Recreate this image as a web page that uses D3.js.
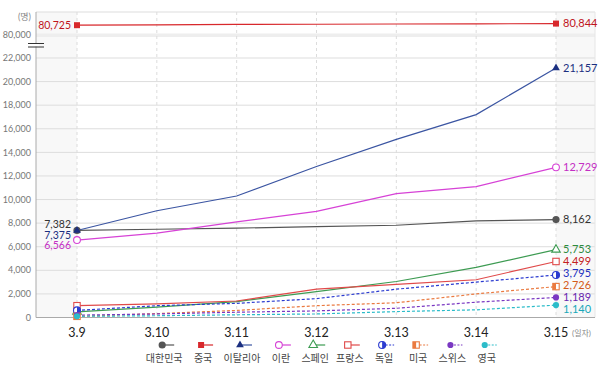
<!DOCTYPE html>
<html>
<head>
<meta charset="utf-8">
<script src="https://cdn.jsdelivr.net/npm/d3@7"></script>
<style>
body { margin: 0; background: #fff; }
svg { font-family: Lato, "Noto Sans CJK KR", sans-serif; }
</style>
</head>
<body>
<script>
// x categories (dates)
var dates = ["3.9", "3.10", "3.11", "3.12", "3.13", "3.14", "3.15"];

// legend / series names
var countries = ["대한민국", "중국", "이탈리아", "이란", "스페인", "프랑스", "독일", "미국", "스위스", "영국"];

// series values
var korea       = [7382, 7480, 7580, 7700, 7820, 8200, 8300];
var china       = [80725, 80754, 80778, 80793, 80813, 80824, 80844];
var italy       = [7375, 9050, 10300, 12800, 15100, 17200, 21157];
var iran        = [6566, 7150, 8100, 9000, 10500, 11100, 12729];
var spain       = [480, 880, 1350, 2200, 3050, 4250, 5753];
var france      = [1000, 1150, 1400, 2400, 2800, 3200, 4750];
var germany     = [600, 1000, 1200, 1600, 2400, 3000, 3600];
var usa         = [100, 330, 600, 1000, 1250, 2000, 2620];
var switzerland = [200, 300, 450, 560, 780, 1300, 1700];
var uk          = [100, 150, 230, 300, 500, 650, 1050];

// printed value labels
var startLabels = ["7,382", "80,725", "7,375", "6,566", null, null, null, null, null, null];
var endLabels   = ["8,162", "80,844", "21,157", "12,729", "5,753", "4,499", "3,795", "2,726", "1,189", "1,140"];

// y ticks
var lowTicks  = [0, 2000, 4000, 6000, 8000, 10000, 12000, 14000, 16000, 18000, 20000, 22000];
var highTicks = [80000];

var seriesValues = [korea, china, italy, iran, spain, france, germany, usa, switzerland, uk];

// styles per series
var lineColors  = ["#555555", "#d8282c", "#3b55a2", "#d642d6", "#3d9b52", "#e04a4a", "#2b3bd0", "#ea7a40", "#7a38c2", "#2cbcc9"];
var labelColors = ["#333333", "#c0141c", "#1b2f80", "#c42fc4", "#2e8b3e", "#c42020", "#2230c0", "#d45a18", "#6a28b0", "#17a7b8"];
var markers     = ["dot", "square", "triangle", "circleOpen", "triangleOpen", "squareOpen", "circleHalf", "squareHalf", "dotSmall", "dotSmall"];
var dashed      = [false, false, false, false, false, false, true, true, true, true];

var width = 600, height = 368;
var plotLeft = 36, plotRight = 595, plotTop = 12, plotBottom = 317.5;

var svg = d3.select("body").append("svg")
    .attr("width", width)
    .attr("height", height);

var x = d3.scalePoint()
    .domain(dates)
    .range([77, 556]);

var yLow = d3.scaleLinear().domain([0, 22000]).range([plotBottom, 58]);
var yHigh = d3.scaleLinear().domain([80000, 81700]).range([35, plotTop]);

function y(v) {
    return v >= 50000 ? yHigh(v) : yLow(v);
}

var firstX = x(dates[0]), lastX = x(dates[dates.length - 1]);

//shaded padding on both sides
svg.append("rect").attr("x", plotLeft).attr("y", plotTop).attr("width", firstX - plotLeft).attr("height", plotBottom - plotTop).attr("fill", "#f8f8f8");
svg.append("rect").attr("x", lastX).attr("y", plotTop).attr("width", plotRight - lastX).attr("height", plotBottom - plotTop).attr("fill", "#f8f8f8");

//horizontal grid
svg.selectAll(".hgrid")
    .data(lowTicks.map(yLow).concat(highTicks.map(yHigh), [plotTop]))
    .enter()
    .append("line")
    .attr("x1", plotLeft).attr("x2", plotRight)
    .attr("y1", function(d){ return d; })
    .attr("y2", function(d){ return d; })
    .attr("stroke", "#dddddd")
    .attr("stroke-width", 1);

//band under the break line
svg.append("rect").attr("x", plotLeft).attr("y", yHigh(80000) - 1.5).attr("width", plotRight - plotLeft).attr("height", 3.5).attr("fill", "#eeeeee");

//vertical dashed grid
svg.selectAll(".vgrid")
    .data(dates)
    .enter()
    .append("line")
    .attr("x1", function(d){ return x(d); })
    .attr("x2", function(d){ return x(d); })
    .attr("y1", plotTop).attr("y2", plotBottom)
    .attr("stroke", "#dcdcdc")
    .attr("stroke-dasharray", "3,3");

svg.append("line").attr("x1", plotRight).attr("x2", plotRight).attr("y1", plotTop).attr("y2", plotBottom).attr("stroke", "#e6e6e6");

//axes lines
svg.append("line").attr("x1", plotLeft).attr("x2", plotLeft).attr("y1", plotTop).attr("y2", plotBottom).attr("stroke", "#aaaaaa");
svg.append("line").attr("x1", plotLeft).attr("x2", plotRight).attr("y1", plotBottom).attr("y2", plotBottom).attr("stroke", "#aaaaaa");

//axis break mark
svg.append("rect").attr("x", plotLeft - 3).attr("y", 43.5).attr("width", 6).attr("height", 3).attr("fill", "#fff");
svg.append("line").attr("x1", 28).attr("x2", 44).attr("y1", 43.5).attr("y2", 43.5).attr("stroke", "#333");
svg.append("line").attr("x1", 28).attr("x2", 44).attr("y1", 47).attr("y2", 47).attr("stroke", "#333");

//y tick labels
var fmt = d3.format(",");
svg.selectAll(".ytick")
    .data(lowTicks.map(function(d){ return [d, yLow(d)]; }).concat(highTicks.map(function(d){ return [d, yHigh(d)]; })))
    .enter()
    .append("text")
    .attr("x", 31)
    .attr("y", function(d){ return d[1]; })
    .attr("dy", "0.35em")
    .attr("text-anchor", "end")
    .attr("font-size", 9)
    .attr("fill", "#777")
    .text(function(d){ return fmt(d[0]); });

svg.append("text").attr("x", 31).attr("y", 17).attr("dy", "0.35em").attr("text-anchor", "end")
    .attr("font-size", 9).attr("fill", "#888").text("(명)");

//x labels
svg.selectAll(".xtick")
    .data(dates)
    .enter()
    .append("text")
    .attr("x", function(d){ return x(d); })
    .attr("y", 337)
    .attr("text-anchor", "middle")
    .attr("font-size", 12.5)
    .attr("fill", "#222")
    .text(function(d){ return d; });

svg.append("text").attr("x", 572).attr("y", 336).attr("text-anchor", "start")
    .attr("font-size", 8).attr("fill", "#888").text("(일자)");

//marker drawing
function drawMarker(g, type, color, cx, cy) {
    if (type == "dot") {
        g.append("circle").attr("cx", cx).attr("cy", cy).attr("r", 3.6).attr("fill", color);
    } else if (type == "dotSmall") {
        g.append("circle").attr("cx", cx).attr("cy", cy).attr("r", 3.1).attr("fill", color);
    } else if (type == "square") {
        g.append("rect").attr("x", cx - 3).attr("y", cy - 3).attr("width", 6).attr("height", 6).attr("fill", color);
    } else if (type == "triangle") {
        g.append("path").attr("d", d3.symbol(d3.symbolTriangle, 26)()).attr("transform", "translate(" + cx + "," + cy + ")").attr("fill", color);
    } else if (type == "circleOpen") {
        g.append("circle").attr("cx", cx).attr("cy", cy).attr("r", 3.4).attr("fill", "#fff").attr("stroke", color).attr("stroke-width", 1.1);
    } else if (type == "triangleOpen") {
        g.append("path").attr("d", d3.symbol(d3.symbolTriangle, 32)()).attr("transform", "translate(" + cx + "," + cy + ")").attr("fill", "#fff").attr("stroke", color).attr("stroke-width", 1.1);
    } else if (type == "squareOpen") {
        g.append("rect").attr("x", cx - 3.2).attr("y", cy - 3.2).attr("width", 6.4).attr("height", 6.4).attr("fill", "#fff").attr("stroke", color).attr("stroke-width", 1.1);
    } else if (type == "circleHalf") {
        g.append("circle").attr("cx", cx).attr("cy", cy).attr("r", 3.5).attr("fill", "#fff").attr("stroke", color).attr("stroke-width", 1.1);
        g.append("path").attr("d", "M" + cx + "," + (cy - 3.5) + "A3.5,3.5 0 0 1 " + cx + "," + (cy + 3.5) + "Z").attr("fill", color);
    } else if (type == "squareHalf") {
        g.append("rect").attr("x", cx - 3.2).attr("y", cy - 3.2).attr("width", 6.4).attr("height", 6.4).attr("fill", "#fff").attr("stroke", color).attr("stroke-width", 1.1);
        g.append("rect").attr("x", cx - 3.2).attr("y", cy - 3.2).attr("width", 3.2).attr("height", 6.4).attr("fill", color);
    }
}

//series lines
var line = d3.line()
    .x(function(d, i){ return x(dates[i]); })
    .y(function(d){ return y(d); });

var order = d3.range(countries.length);

order.forEach(function(s){
    svg.append("path")
        .datum(seriesValues[s])
        .attr("fill", "none")
        .attr("stroke", lineColors[s])
        .attr("stroke-width", 1.2)
        .attr("stroke-dasharray", dashed[s] ? "3,2" : null)
        .attr("d", line);
});

var markG = svg.append("g");
order.forEach(function(s){
    var vals = seriesValues[s];
    var mcol = s == 2 ? labelColors[s] : lineColors[s];
    [0, vals.length - 1].forEach(function(i){
        drawMarker(markG, markers[s], mcol, x(dates[i]), y(vals[i]));
    });
});

//label collision: sweep down then recentre each cluster
function spread(items, gap) {
    items.sort(function(a, b){ return a.y0 - b.y0 || a.s - b.s; });
    var clusters = [];
    items.forEach(function(it){
        var c = clusters[clusters.length - 1];
        if (c && it.y0 < c[c.length - 1].y + gap) {
            it.y = c[c.length - 1].y + gap;
            c.push(it);
        } else {
            it.y = it.y0;
            clusters.push([it]);
        }
    });
    clusters.forEach(function(c){
        var shift = d3.mean(c, function(d){ return d.y0; }) - d3.mean(c, function(d){ return d.y; });
        if (c.length > 1) c.forEach(function(d){ d.y += shift * 0.8; });
    });
    return items;
}

var startItems = [], endItems = [];
order.forEach(function(s){
    var vals = seriesValues[s];
    if (startLabels[s]) startItems.push({s: s, y0: y(vals[0]), text: startLabels[s]});
    endItems.push({s: s, y0: y(vals[vals.length - 1]), text: endLabels[s]});
});

spread(startItems, 10.5);
spread(endItems, 12);

svg.selectAll(".startlabel")
    .data(startItems)
    .enter()
    .append("text")
    .attr("x", 71)
    .attr("y", function(d){ return d.y; })
    .attr("dy", "0.35em")
    .attr("text-anchor", "end")
    .attr("font-size", 10.5)
    .attr("fill", function(d){ return labelColors[d.s]; })
    .text(function(d){ return d.text; });

svg.selectAll(".endlabel")
    .data(endItems)
    .enter()
    .append("text")
    .attr("x", 563)
    .attr("y", function(d){ return d.y; })
    .attr("dy", "0.35em")
    .attr("text-anchor", "start")
    .attr("font-size", 11)
    .attr("fill", function(d){ return labelColors[d.s]; })
    .text(function(d){ return d.text; });

//legend
var legend = svg.append("g");
var items = legend.selectAll(".item")
    .data(countries)
    .enter()
    .append("g");

items.append("text")
    .attr("y", 362)
    .attr("text-anchor", "middle")
    .attr("font-size", 10)
    .attr("fill", "#444")
    .text(function(d){ return d; });

var widths = [];
items.each(function(){
    widths.push(Math.max(d3.select(this).select("text").node().getComputedTextLength(), 27));
});
var gap = 7;
var total = d3.sum(widths) + gap * (widths.length - 1);
var cursor = 323 - total / 2;
items.each(function(d, i){
    var cx = cursor + widths[i] / 2;
    cursor += widths[i] + gap;
    var g = d3.select(this);
    g.select("text").attr("x", cx);
    var mx = cx - 2, my = 345;
    g.append("line")
        .attr("x1", mx).attr("x2", mx + 12)
        .attr("y1", my).attr("y2", my)
        .attr("stroke", lineColors[i])
        .attr("stroke-width", 1.2)
        .attr("stroke-dasharray", dashed[i] ? "2,1.5" : null);
    drawMarker(g, markers[i], i == 2 ? labelColors[i] : lineColors[i], mx, my);
});
</script>
</body>
</html>
